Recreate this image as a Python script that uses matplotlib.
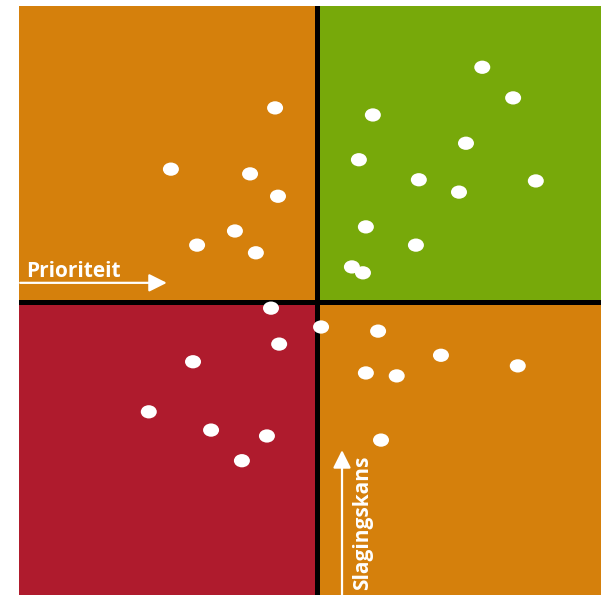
import matplotlib.pyplot as plt
from matplotlib.patches import Ellipse

# quadrant colours
orange = '#d5800c'
green = '#77a90a'
red = '#af1b2d'

# split lines of the matrix (0-100 scale)
x_split = 51.2
y_split = 49.7

# projects: prioriteit (x) vs slagingskans (y)
prio = [44.0, 26.1, 39.7, 44.5, 37.1, 30.6, 40.7,
        79.6, 84.9, 60.8, 76.8, 58.4, 68.7, 75.6, 88.8, 59.6, 68.2, 57.2, 59.1,
        43.3, 51.9, 61.7, 44.7, 29.9, 72.5, 85.7, 59.6, 64.9, 22.3, 33.0, 42.6, 62.2, 38.3]
kans = [82.7, 72.3, 71.5, 67.7, 61.8, 59.4, 58.1,
        89.6, 84.4, 81.5, 76.7, 73.9, 70.5, 68.4, 70.3, 62.5, 59.4, 55.7, 54.7,
        48.7, 45.5, 44.8, 42.6, 39.6, 40.7, 38.9, 37.7, 37.2, 31.1, 28.0, 27.0, 26.3, 22.8]

fig = plt.figure(figsize=(6.01, 5.95), dpi=100)
ax = fig.add_axes([19 / 601, 0, 582 / 601, 589 / 595])
ax.set_xlim(0, 100)
ax.set_ylim(0, 100)
ax.axis('off')

# coloured quadrants
ax.fill_between([0, x_split], y_split, 100, color=orange, lw=0)
ax.fill_between([x_split, 100], y_split, 100, color=green, lw=0)
ax.fill_between([0, x_split], 0, y_split, color=red, lw=0)
ax.fill_between([x_split, 100], 0, y_split, color=orange, lw=0)

ax.axvline(x_split, color='black', lw=3.6)
ax.axhline(y_split, color='black', lw=3.6)

for x, y in zip(prio, kans):
    ax.add_patch(Ellipse((x, y), 2.75, 2.25, color='white', lw=0, zorder=5))

# axis arrows and labels
ax.annotate('', xy=(25.4, 53.0), xytext=(0.2, 53.0),
            arrowprops=dict(arrowstyle='-|>', color='white', lw=1.6,
                            mutation_scale=27, shrinkA=0, shrinkB=0))
ax.text(1.3, 54.0, 'Prioriteit', color='white', fontsize=15,
        fontweight='bold', family='Open Sans', ha='left', va='baseline')

ax.annotate('', xy=(55.5, 24.6), xytext=(55.5, 0),
            arrowprops=dict(arrowstyle='-|>', color='white', lw=1.6,
                            mutation_scale=27, shrinkA=0, shrinkB=0))
ax.text(59.0, 0.85, 'Slagingskans', color='white', fontsize=15,
        fontweight='bold', family='Open Sans', rotation=90, ha='center', va='bottom')

fig.savefig('out.png', dpi=100)
